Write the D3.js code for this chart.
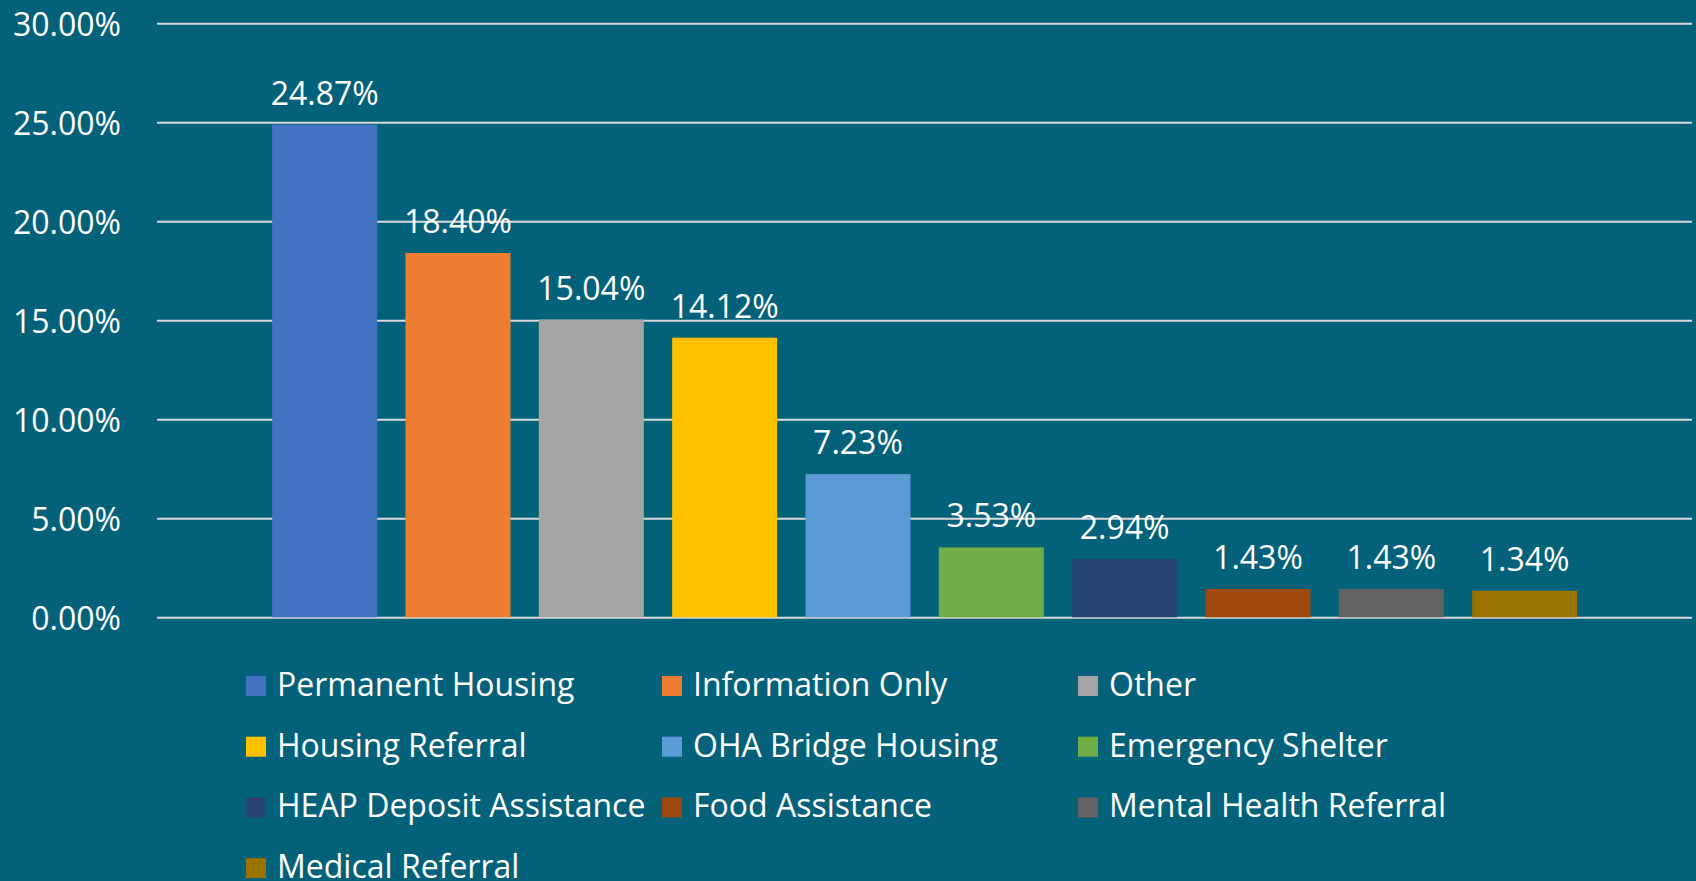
<!DOCTYPE html>
<html>
<head>
<meta charset="utf-8">
<script src="https://cdn.jsdelivr.net/npm/d3@7"></script>
<style>
  html, body { margin: 0; padding: 0; background: #04617a; overflow: hidden; }
  svg { display: block; }
  text { font-family: "Open Sans", sans-serif; fill: #ffffff; }
</style>
</head>
<body>
<div id="chart"></div>
<script>
// Referral categories, in bar order
const categories = [
  "Permanent Housing",
  "Information Only",
  "Other",
  "Housing Referral",
  "OHA Bridge Housing",
  "Emergency Shelter",
  "HEAP Deposit Assistance",
  "Food Assistance",
  "Mental Health Referral",
  "Medical Referral"
];

// Share of referrals (fraction)
const values = [0.2487, 0.1840, 0.1504, 0.1412, 0.0723, 0.0353, 0.0294, 0.0143, 0.0143, 0.0134];

// Office palette
const colors = [
  "#4472c4", "#ed7d31", "#a5a5a5", "#ffc000", "#5b9bd5",
  "#70ad47", "#264478", "#9e480e", "#636363", "#997300"
];

const yTicks = [0, 0.05, 0.10, 0.15, 0.20, 0.25, 0.30];

const width = 1696;
const height = 881;
const fontSize = 32;

const svg = d3.select("#chart")
  .append("svg")
  .attr("width", width)
  .attr("height", height);

// Scales
const y = d3.scaleLinear()
  .domain([0, 0.30])
  .range([617.3, 23.3]);

const x = d3.scaleBand()
  .domain(categories)
  .range([258, 1591.3])
  .paddingInner(0.2125)
  .paddingOuter(0.10625);

const color = d3.scaleOrdinal()
  .domain(categories)
  .range(colors);

// Gridlines + tick labels
const yAxis = d3.axisLeft(y)
  .tickValues(yTicks)
  .tickSize(-(1692 - 157))
  .tickPadding(36)
  .tickFormat(d3.format(".2%"));

const axisG = svg.append("g")
  .attr("transform", "translate(157,0)")
  .call(yAxis);

axisG.select(".domain").remove();
axisG.selectAll(".tick line")
  .attr("stroke", "#d9d9d9")
  .attr("stroke-width", 2);
axisG.selectAll(".tick text")
  .attr("dy", null)
  .attr("y", 12)
  .style("font-family", "'Open Sans', sans-serif")
  .style("font-size", fontSize + "px")
  .attr("fill", "#ffffff");

const data = categories.map((c, i) => ({ name: c, value: values[i] }));

// Bars
svg.selectAll(".bar")
  .data(data)
  .enter()
  .append("rect")
  .attr("class", "bar")
  .attr("x", d => x(d.name))
  .attr("y", d => y(d.value))
  .attr("width", x.bandwidth())
  .attr("height", d => y(0) - y(d.value))
  .attr("fill", d => color(d.name));

// Data labels
svg.selectAll(".label")
  .data(data)
  .enter()
  .append("text")
  .attr("class", "label")
  .attr("x", d => x(d.name) + x.bandwidth() / 2)
  .attr("y", d => y(d.value) - 20)
  .attr("text-anchor", "middle")
  .style("font-size", fontSize + "px")
  .text(d => d3.format(".2%")(d.value));

// Legend, 3 columns
const legend = svg.selectAll(".legend")
  .data(data)
  .enter()
  .append("g")
  .attr("class", "legend")
  .attr("transform", (d, i) => `translate(${246 + (i % 3) * 416},${676 + Math.floor(i / 3) * 60.7})`);

legend.append("rect")
  .attr("width", 20)
  .attr("height", 20)
  .attr("fill", d => color(d.name));

legend.append("text")
  .attr("x", 31)
  .attr("y", 20)
  .style("font-size", fontSize + "px")
  .text(d => d.name);
</script>
</body>
</html>
